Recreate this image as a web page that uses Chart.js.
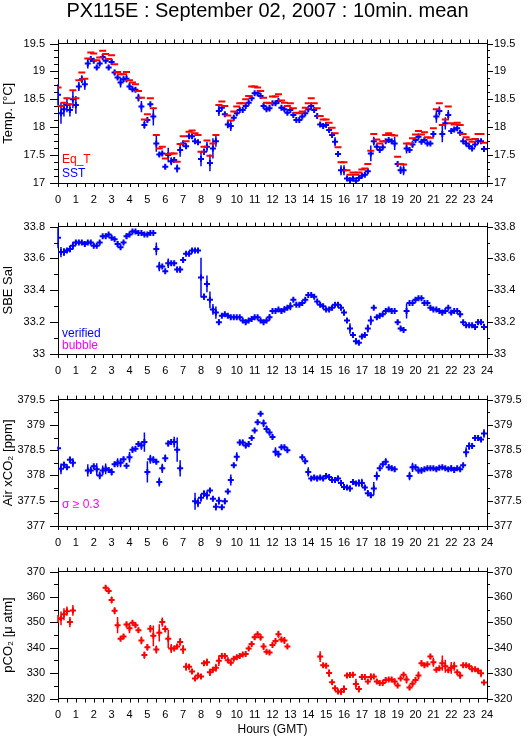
<!DOCTYPE html>
<html>
<head>
<meta charset="utf-8">
<title>PX115E : September 02, 2007</title>
<script src="https://cdn.jsdelivr.net/npm/chart.js@4.4.1/dist/chart.umd.min.js"></script>
<style>
  html, body { margin: 0; padding: 0; background: #fff; }
  #page { position: relative; width: 529px; height: 739px; overflow: hidden; font-family: "Liberation Sans", Arial, sans-serif; }
  #title { position: absolute; left: 0; top: 0; width: 535px; text-align: center; font-size: 20px; line-height: 20px; color: #000; z-index: 2; }
  canvas { position: absolute; left: 0; }
</style>
</head>
<body>
<div id="page">
  <canvas id="tempChart" width="529" height="207" style="top:0px"></canvas>
  <canvas id="salChart" width="529" height="173" style="top:207px"></canvas>
  <canvas id="airChart" width="529" height="172" style="top:380px"></canvas>
  <canvas id="pco2Chart" width="529" height="187" style="top:552px"></canvas>
  <div id="title">PX115E : September 02, 2007 : 10min. mean</div>
</div>
<script>
// 10 minute means, one value per 10 min from 00:00 GMT (144 per day), null = no data

const eqT = [
  18.71,18.38,18.44,18.52,18.41,18.66,18.52,18.84,18.98,18.87,
  19.23,19.34,19.32,19.20,19.25,19.37,19.31,19.22,19.29,19.13,
  18.99,18.95,18.95,18.99,18.84,18.80,18.77,18.65,18.53,18.14,
  18.23,18.52,18.34,17.86,17.62,17.65,17.44,17.52,17.53,17.53,
  17.38,17.70,17.84,17.75,17.92,17.94,17.89,17.86,17.56,17.65,
  17.76,17.49,17.71,17.86,18.40,18.46,18.38,18.21,18.12,18.28,
  18.37,18.43,18.43,18.50,18.56,18.73,18.73,18.71,18.65,18.53,
  18.44,18.43,18.55,18.55,18.59,18.48,18.44,18.38,18.43,18.34,
  18.26,18.25,18.28,18.35,18.43,18.52,18.43,18.34,18.20,18.14,
  18.14,18.08,17.99,17.89,17.64,17.37,17.37,17.23,17.15,17.19,
  17.15,17.19,17.24,17.26,17.34,17.58,17.88,17.78,17.71,17.75,
  17.86,17.89,17.86,17.85,17.47,17.34,17.33,17.71,17.71,17.80,
  17.87,17.93,17.87,17.91,17.82,17.81,17.98,18.32,18.43,18.04,
  18.14,18.37,18.07,18.05,18.08,18.04,17.88,17.82,17.78,17.74,
  17.79,17.88,17.88,17.72
];

const sst = [
  18.58,18.25,18.32,18.40,18.31,18.50,18.40,18.73,18.86,18.77,
  19.14,19.22,19.19,19.07,19.14,19.26,19.19,19.07,19.17,18.98,
  18.89,18.80,18.86,18.87,18.73,18.68,18.67,18.53,18.37,18.04,
  18.13,18.41,18.19,17.71,17.51,17.53,17.29,17.50,17.39,17.41,
  17.26,17.59,17.71,17.66,17.84,17.84,17.75,17.73,17.43,17.56,
  17.65,17.36,17.62,17.75,18.29,18.35,18.23,18.05,18.02,18.17,
  18.25,18.31,18.31,18.38,18.44,18.52,18.61,18.61,18.56,18.38,
  18.32,18.34,18.43,18.43,18.47,18.35,18.32,18.26,18.31,18.22,
  18.13,18.13,18.19,18.25,18.32,18.38,18.31,18.20,18.05,18.02,
  18.04,17.95,17.86,17.74,17.52,17.23,17.23,17.08,17.05,17.08,
  17.04,17.09,17.13,17.15,17.21,17.53,17.75,17.65,17.59,17.64,
  17.75,17.77,17.75,17.71,17.34,17.23,17.23,17.62,17.59,17.69,
  17.77,17.83,17.74,17.77,17.71,17.71,17.88,18.19,18.29,17.88,
  18.07,18.22,17.93,17.96,17.98,17.90,17.75,17.71,17.66,17.62,
  17.69,17.75,17.75,17.61
];

const sstErr = [
  .19,.19,.13,.13,.12,.16,.16,.08,.07,.10,
  .09,.03,.03,.03,.03,.03,.03,.04,.05,.05,
  .03,.09,.05,.07,.06,.04,.04,.07,.10,.07,
  .04,.03,.16,.15,.03,.03,.04,.13,.07,.03,
  .07,.12,.05,.04,.03,.03,.03,.03,.13,.06,
  .09,.15,.18,.10,.09,.03,.04,.07,.09,.03,
  .03,.03,.03,.04,.03,.03,.03,.03,.03,.05,
  .03,.06,.03,.03,.03,.03,.03,.03,.03,.03,
  .03,.03,.03,.03,.03,.03,.03,.03,.03,.03,
  .03,.03,.03,.08,.05,.09,.09,.04,.03,.03,
  .03,.03,.03,.03,.03,.14,.08,.03,.03,.03,
  .03,.03,.03,.12,.03,.07,.09,.09,.03,.06,
  .03,.03,.03,.03,.03,.03,.05,.11,.08,.15,
  .11,.09,.03,.03,.03,.05,.03,.03,.03,.03,
  .03,.03,.03,.03
];

const sal = [
  33.73,33.64,33.64,33.65,33.66,33.68,33.70,33.70,33.70,33.69,
  33.70,33.70,33.68,33.68,33.70,33.74,33.74,33.75,33.73,33.72,
  33.69,33.67,33.70,33.74,33.75,33.77,33.77,33.76,33.76,33.75,
  33.75,33.76,33.76,33.66,33.55,33.55,33.52,33.57,33.57,33.57,
  33.53,33.53,33.59,33.63,33.63,33.65,33.65,33.65,33.48,33.36,
  33.44,33.34,33.28,33.26,33.20,33.24,33.25,33.24,33.23,33.23,
  33.23,33.23,33.21,33.20,33.21,33.22,33.23,33.23,33.21,33.20,
  33.21,33.23,33.27,33.27,33.28,33.27,33.28,33.29,33.30,33.34,
  33.31,33.31,33.32,33.34,33.37,33.37,33.36,33.33,33.31,33.30,
  33.28,33.28,33.29,33.31,33.31,33.29,33.26,33.21,33.16,33.12,
  33.08,33.07,33.11,33.12,33.16,33.21,33.29,33.23,33.24,33.25,
  33.27,33.28,33.27,33.27,33.20,33.16,33.15,33.27,33.32,33.32,
  33.34,33.35,33.35,33.32,33.32,33.29,33.28,33.28,33.27,33.26,
  33.27,33.29,33.26,33.27,33.27,33.25,33.20,33.18,33.18,33.18,
  33.17,33.20,33.20,33.17
];

const salErr = [
  .066,.032,.025,.01,.022,.025,.008,.008,.008,.015,
  .008,.008,.008,.008,.008,.008,.008,.008,.008,.008,
  .02,.008,.008,.018,.008,.008,.008,.008,.008,.008,
  .008,.008,.008,.04,.03,.008,.008,.03,.008,.008,
  .018,.02,.016,.008,.008,.008,.008,.008,.125,.02,
  .053,.053,.034,.038,.018,.008,.008,.008,.008,.008,
  .008,.008,.008,.008,.008,.008,.008,.008,.008,.008,
  .008,.02,.008,.008,.008,.015,.02,.008,.025,.008,
  .008,.008,.008,.008,.008,.008,.008,.008,.008,.008,
  .008,.008,.008,.008,.008,.015,.02,.008,.033,.008,
  .02,.008,.008,.008,.025,.03,.008,.015,.008,.008,
  .008,.008,.015,.008,.015,.008,.008,.047,.008,.008,
  .008,.008,.008,.015,.008,.008,.008,.008,.008,.017,
  .008,.008,.014,.008,.008,.02,.008,.008,.008,.008,
  .008,.018,.018,.02
];

const airCO2 = [
  378.54,378.13,378.21,378.16,378.31,378.25,null,null,null,null,
  378.10,378.10,378.18,378.12,378.00,378.10,378.13,378.11,378.07,378.22,
  378.25,378.25,378.32,378.19,378.36,378.51,378.53,378.62,378.59,378.66,
  378.07,378.32,378.31,378.27,377.87,378.14,378.34,378.63,378.66,378.66,
  378.51,378.14,null,null,null,null,377.49,377.46,377.56,377.64,
  377.61,377.70,377.54,377.38,377.50,377.37,377.49,377.68,377.91,378.20,
  378.37,378.65,378.65,378.59,378.62,378.74,378.89,379.05,379.22,379.03,
  378.92,378.85,378.76,378.47,378.42,378.56,378.56,378.50,null,null,
  null,null,378.36,378.28,378.07,377.94,377.96,377.94,377.96,377.94,
  377.99,377.97,377.91,377.91,377.94,377.85,377.77,377.76,377.74,377.87,
  377.84,377.85,377.85,377.76,377.65,377.61,377.74,377.99,378.14,378.22,
  378.27,378.16,378.14,378.12,null,null,null,null,377.99,378.16,
  378.16,378.10,378.10,378.12,378.14,378.14,378.14,378.12,378.15,378.16,
  378.14,378.12,378.14,378.11,378.14,378.12,378.20,378.46,378.58,378.58,
  378.74,378.74,378.71,378.83
];

const airErr = [
  .03,.106,.06,.02,.067,.09,0,0,0,0,
  .12,.07,.02,.12,.076,.097,.106,.05,.07,.05,
  .09,.09,.05,.02,.106,.06,.02,.045,.08,.19,
  .21,.09,.07,.045,.09,.09,.076,.06,.06,.106,
  .24,.16,0,0,0,0,.17,.09,.08,.067,
  .09,.045,.025,.073,.08,.045,.06,.045,.11,.04,
  .09,.06,.055,.05,.06,.04,.03,.05,.04,.076,
  .07,.06,.05,.09,.067,.03,.03,.03,0,0,
  0,0,.03,.055,.09,.045,.05,.055,.03,.03,
  .06,.03,.03,.045,.055,.045,.04,.045,.06,.06,
  .05,.076,.085,.055,.06,.05,.13,.09,.05,.05,
  .07,.06,.05,.05,0,0,0,0,.085,.09,
  .03,.06,.06,.03,.03,.03,.03,.03,.03,.03,
  .03,.03,.06,.06,.03,.03,.03,.1,.076,.03,
  .06,.03,.03,.085
];

const pco2 = [
  351.3,351.6,353.2,354.4,350.1,354.7,null,null,null,null,
  null,null,null,null,null,null,363.6,362.4,358.8,354.6,
  348.9,343.5,344.4,349.2,347.7,349.8,348.9,346.9,342.9,337.1,
  340.2,347.5,344.7,339.3,345.9,350.1,347.4,343.5,339.7,339.7,
  340.5,342.3,339.3,332.5,332.5,330.6,327.9,329.1,328.7,333.9,
  334.3,330.3,331.3,332.1,334.9,336.7,336.7,335.1,334.1,335.7,
  336.3,336.7,337.3,337.5,339.7,341.5,344.1,345.3,344.1,340.5,
  338.4,338.1,341.1,342.7,345.3,343.2,342.9,340.5,null,null,
  null,null,null,null,null,null,null,null,336.5,333.1,
  332.9,330.0,326.4,324.0,322.8,322.7,323.7,329.1,329.3,329.4,
  325.7,323.7,328.5,328.5,326.7,328.5,328.7,326.7,326.1,326.1,
  327.3,327.5,327.5,326.7,325.1,327.9,329.4,327.5,324.3,325.8,
  327.3,329.1,333.9,333.1,333.5,336.5,334.3,331.3,331.9,333.9,
  332.7,331.1,332.1,332.7,330.3,329.1,333.1,333.1,332.7,331.5,
  331.5,330.9,329.9,326.3
];

const pco2Err = [
  1.6,2.7,2.4,1.8,2.0,2.1,0,0,0,0,
  0,0,0,0,0,0,.6,.9,1.4,1.4,
  3.2,.6,.9,1.1,2.0,.6,1.0,1.0,1.5,1.4,
  1.3,1.5,4.1,1.6,3.4,1.8,1.4,3.6,1.8,.6,
  1.0,1.5,1.8,1.6,1.0,.9,.5,.6,.9,.8,
  1.5,1.4,.9,1.6,2.1,.6,.6,.6,.7,.6,
  .6,.6,.6,.6,.6,.9,1.0,.6,1.2,1.3,
  .6,.5,.7,.6,1.4,.8,1.3,.5,0,0,
  0,0,0,0,0,0,0,0,2.1,.6,
  .6,1.5,.6,.6,.9,1.2,1.5,.5,.5,.5,
  2.1,1.3,1.2,.6,.6,1.4,.8,1.0,.6,.6,
  .6,.6,.6,1.2,.6,.6,.6,1.6,1.0,1.2,
  .6,1.5,1.2,.6,.6,1.0,1.8,.6,.6,3.0,
  2.6,.6,2.3,1.8,.6,1.2,.5,.5,.5,.5,
  .5,.5,1.5,.6
];

const BLUE = '#0000ff', RED = '#ff0000', MAGENTA = '#ff00ff';
const FONT = '"Liberation Sans", Arial, sans-serif';

// index -> hour of day, skip missing values
function series(vals, errs) {
  const pts = [], e = [];
  vals.forEach((v, i) => {
    if (v === null) return;
    pts.push({ x: i / 6, y: v });
    e.push(errs ? errs[i] : 0);
  });
  return { pts, e };
}

// vertical error bars, in the dataset colour
const errorBars = {
  id: 'errorBars',
  beforeDatasetsDraw(chart) {
    const ctx = chart.ctx;
    chart.data.datasets.forEach((ds, di) => {
      if (!ds.errors) return;
      const meta = chart.getDatasetMeta(di);
      const ys = chart.scales[meta.yAxisID];
      ctx.save();
      ctx.strokeStyle = ds.borderColor;
      ctx.lineWidth = 1.5;
      ctx.beginPath();
      meta.data.forEach((pt, i) => {
        const e = ds.errors[i];
        if (!e) return;
        const v = ds.data[i].y;
        ctx.moveTo(pt.x, ys.getPixelForValue(v - e));
        ctx.lineTo(pt.x, ys.getPixelForValue(v + e));
      });
      ctx.stroke();
      ctx.restore();
    });
  }
};

// outward tick marks on all four sides + small coloured notes
const frameTicks = {
  id: 'frameTicks',
  afterDraw(chart, args, opts) {
    const { ctx, chartArea: a } = chart;
    const xs = chart.scales.x, ys = chart.scales.y;
    ctx.save();
    ctx.strokeStyle = '#000';
    ctx.lineWidth = 1;
    ctx.beginPath();
    for (let i = 0; i <= 48; i++) {
      const px = Math.round(xs.getPixelForValue(i / 2)) + 0.5;
      ctx.moveTo(px, a.top); ctx.lineTo(px, a.top - 4);
      ctx.moveTo(px, a.bottom); ctx.lineTo(px, a.bottom + 4);
    }
    const n = Math.round((ys.max - ys.min) / opts.minor);
    for (let i = 0; i <= n; i++) {
      const py = Math.round(ys.getPixelForValue(ys.min + i * opts.minor)) + 0.5;
      const major = i % opts.every === 0;
      ctx.moveTo(a.left, py); ctx.lineTo(a.left - (major ? 8 : 4), py);
      ctx.moveTo(a.right, py); ctx.lineTo(a.right + (major ? 6 : 3), py);
    }
    ctx.stroke();
    ctx.font = '12px ' + FONT;
    ctx.textBaseline = 'alphabetic';
    (opts.notes || []).forEach(t => {
      ctx.fillStyle = t.color;
      ctx.fillText(t.text, t.x, t.y);
    });
    ctx.restore();
  }
};

function makePanel(id, cfg) {
  const canvas = document.getElementById(id);
  const h = canvas.height;
  const tickFont = { family: FONT, size: 11 };
  const fmt = v => String(Math.round(v * 1000) / 1000);
  const gridOff = { drawOnChartArea: false, drawTicks: false };
  const border = { color: '#000', width: 1 };
  return new Chart(canvas, {
    type: 'scatter',
    data: { datasets: cfg.datasets },
    options: {
      responsive: false,
      animation: false,
      devicePixelRatio: 1,
      events: [],
      layout: { padding: 0, autoPadding: false },
      plugins: {
        legend: { display: false },
        tooltip: { enabled: false },
        frameTicks: { minor: cfg.minor, every: cfg.every, notes: cfg.notes }
      },
      scales: {
        x: {
          type: 'linear', position: 'bottom', min: 0, max: 24,
          grid: gridOff, border: border,
          ticks: { stepSize: 1, autoSkip: false, maxRotation: 0, padding: 10, color: '#000', font: tickFont },
          title: cfg.xTitle
            ? { display: true, text: cfg.xTitle, color: '#000', font: { family: FONT, size: 12 }, padding: { top: 0, bottom: 2 } }
            : { display: false },
          afterFit: s => { s.height = h - cfg.bottom; }
        },
        xTop: {
          type: 'linear', position: 'top', min: 0, max: 24,
          grid: gridOff, border: border,
          ticks: { display: false },
          afterFit: s => { s.height = cfg.top; }
        },
        y: {
          position: 'left', min: cfg.min, max: cfg.max,
          grid: gridOff, border: border,
          ticks: { stepSize: cfg.step, callback: fmt, padding: 13, color: '#000', font: tickFont },
          title: { display: true, text: cfg.yTitle, color: '#000', font: { family: FONT, size: 13 }, padding: { top: 1, bottom: 0 } },
          afterFit: s => { s.width = 58; }
        },
        yR: {
          position: 'right', min: cfg.min, max: cfg.max,
          grid: gridOff, border: border,
          ticks: { stepSize: cfg.step, callback: fmt, padding: 7, color: '#000', font: tickFont },
          afterFit: s => { s.width = 42; }
        }
      }
    },
    plugins: [errorBars, frameTicks]
  });
}

function pointSet(label, s, color, style, radius) {
  return {
    label: label,
    data: s.pts,
    errors: s.e,
    borderColor: color,
    backgroundColor: color,
    pointStyle: style,
    pointRadius: radius,
    pointBorderColor: color,
    pointBorderWidth: 2,
    showLine: false
  };
}

const eqS = series(eqT, null);
const sstS = series(sst, sstErr);
makePanel('tempChart', {
  top: 43.5, bottom: 183, min: 17, max: 19.5, step: 0.5, minor: 0.125, every: 4,
  yTitle: 'Temp. [°C]',
  datasets: [
    Object.assign(pointSet('Eq_T', eqS, RED, 'line', 3.5), { errors: null }),
    pointSet('SST', sstS, BLUE, 'cross', 3)
  ],
  notes: [
    { text: 'Eq_T', color: RED, x: 62, y: 163 },
    { text: 'SST', color: BLUE, x: 62, y: 177 }
  ]
});

makePanel('salChart', {
  top: 8, bottom: 147, min: 33, max: 33.8, step: 0.2, minor: 0.1, every: 2,
  yTitle: 'SBE Sal',
  datasets: [pointSet('verified', series(sal, salErr), BLUE, 'cross', 3)],
  notes: [
    { text: 'verified', color: BLUE, x: 62, y: 130 },
    { text: 'bubble', color: MAGENTA, x: 62, y: 142 }
  ]
});

makePanel('airChart', {
  top: 8.3, bottom: 146, min: 377, max: 379.5, step: 0.5, minor: 0.25, every: 2,
  yTitle: 'Air xCO₂ [ppm]',
  datasets: [pointSet('verified', series(airCO2, airErr), BLUE, 'cross', 3)],
  notes: [
    { text: 'σ ≥ 0.3', color: MAGENTA, x: 62, y: 128 }
  ]
});

makePanel('pco2Chart', {
  top: 8, bottom: 146.5, min: 320, max: 370, step: 10, minor: 5, every: 2,
  yTitle: 'pCO₂ [μ atm]',
  xTitle: 'Hours (GMT)',
  datasets: [pointSet('pCO2', series(pco2, pco2Err), RED, 'cross', 3)],
  notes: []
});
</script>
</body>
</html>
